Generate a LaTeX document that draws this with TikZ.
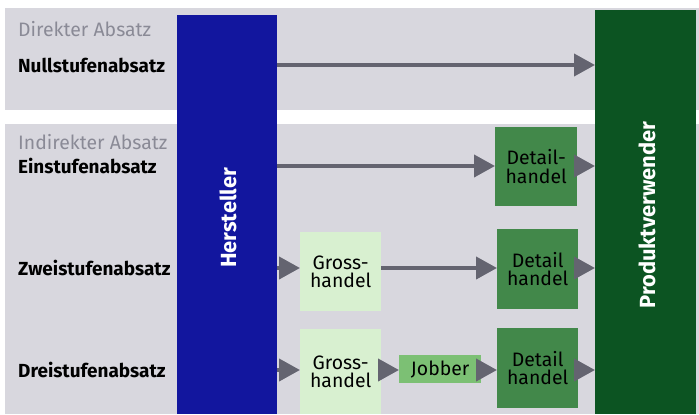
\documentclass[tikz,border=0pt]{standalone}
\usepackage{fontspec}
\setmainfont{Fira Sans}
\usetikzlibrary{arrows.meta}

\definecolor{panel}{RGB}{216,215,222}
\definecolor{herstblue}{RGB}{18,22,158}
\definecolor{prodgreen}{RGB}{12,84,34}
\definecolor{detailgreen}{RGB}{66,136,74}
\definecolor{grossgreen}{RGB}{216,240,208}
\definecolor{jobbergreen}{RGB}{124,192,116}
\definecolor{arrowgray}{RGB}{100,100,112}
\definecolor{headgray}{RGB}{138,138,150}

\tikzset{
  bar/.style={inner sep=0pt, anchor=north west, draw=none},
  tradebox/.style={inner sep=0pt, anchor=north west, align=center, text=black,
    font=\fontsize{19.5}{18.5}\selectfont},
  rowlabel/.style={anchor=west, inner sep=0pt, text=black,
    font=\fontsize{19}{20}\selectfont\bfseries},
  grouphead/.style={anchor=west, inner sep=0pt, text=headgray,
    font=\fontsize{19.5}{20}\selectfont},
  barlabel/.style={rotate=90, text=white, font=\fontsize{22}{24}\selectfont\bfseries},
  flow/.style={draw=arrowgray, line width=4bp, -{Triangle[length=21bp,width=22bp]}}
}

\begin{document}
\begin{tikzpicture}[x=1bp,y=-1bp]
\useasboundingbox (0,0) rectangle (699,414);
% background panels
\fill[white] (0,0) rectangle (699,414);
\fill[panel] (5,8) rectangle (699,110);
\fill[panel] (5,124) rectangle (699,414);

% producer and consumer bars
\node[bar, fill=herstblue, minimum width=100bp, minimum height=399bp] (herst) at (177,15) {};
\node[barlabel] (herstlbl) at (228,218) {Hersteller};
\node[bar, fill=prodgreen, minimum width=101bp, minimum height=404bp] (prod) at (595,10) {};
\node[barlabel] (prodlbl) at (647,215) {Produktverwender};

% group headings and row labels
\node[grouphead] (direkt) at (18,29) {Direkter Absatz};
\node[rowlabel] (null) at (18,65) {Nullstufenabsatz};
\node[grouphead] (indirekt) at (18,142) {Indirekter Absatz};
\node[rowlabel] (ein) at (18,166) {Einstufenabsatz};
\node[rowlabel] (zwei) at (18,268) {Zweistufenabsatz};
\node[rowlabel] (drei) at (18,370) {Dreistufenabsatz};

% trade stages
\node[tradebox, fill=detailgreen, minimum width=82bp, minimum height=79bp] (d1) at (495,127) {Detail-\\handel};
\node[tradebox, fill=grossgreen, minimum width=81bp, minimum height=79bp] (g2) at (300,232) {Gross-\\handel};
\node[tradebox, fill=detailgreen, minimum width=81bp, minimum height=80bp] (d2) at (497,229) {Detail\\handel};
\node[tradebox, fill=grossgreen, minimum width=81bp, minimum height=85bp] (g3) at (300,329) {Gross-\\handel};
\node[tradebox, fill=jobbergreen, minimum width=82bp, minimum height=28bp] (job) at (399,355) {Jobber};
\node[tradebox, fill=detailgreen, minimum width=81bp, minimum height=80bp] (d3) at (497,328) {Detail\\handel};

% flows
\draw[flow] (herst.east |- null) -- (prod.west |- null);

\draw[flow] (herst.east |- ein) -- (d1.west |- ein);
\draw[flow] (d1.east |- ein) -- (prod.west |- ein);

\draw[flow] (herst.east |- zwei) -- (g2.west |- zwei);
\draw[flow] (g2.east |- zwei) -- (d2.west |- zwei);
\draw[flow] (d2.east |- zwei) -- (prod.west |- zwei);

\draw[flow] (herst.east |- drei) -- (g3.west |- drei);
\draw[flow] (g3.east |- drei) -- (job.west |- drei);
\draw[flow] (job.east |- drei) -- (d3.west |- drei);
\draw[flow] (d3.east |- drei) -- (prod.west |- drei);
\end{tikzpicture}
\end{document}
